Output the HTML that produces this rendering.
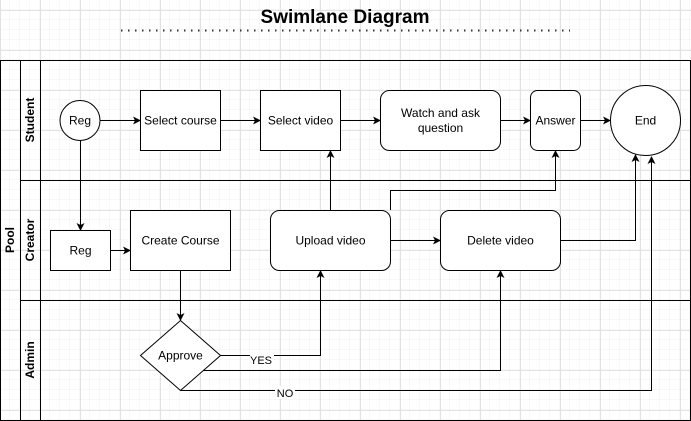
<!DOCTYPE html>
<html><head><meta charset="utf-8"><style>
html,body{margin:0;padding:0;background:#fff;}
svg{display:block;}
text{font-family:"Liberation Sans",sans-serif;}
</style></head><body>
<svg width="691" height="421" viewBox="0 0 691 421" xmlns="http://www.w3.org/2000/svg">
<defs>
<pattern id="minor" width="10" height="10" patternUnits="userSpaceOnUse">
<path d="M10 0V10M0 10H10" stroke="#f0f0f0" stroke-width="1" fill="none"/>
</pattern>
<pattern id="major" x="0" y="10" width="40" height="40" patternUnits="userSpaceOnUse">
<path d="M0.5 0V40M0 0.5H40" stroke="#e2e2e2" stroke-width="1" fill="none"/>
</pattern>
<marker id="a" markerWidth="8" markerHeight="8" refX="7" refY="4" orient="auto" markerUnits="userSpaceOnUse">
<path d="M0,0 L8,4 L0,8 L2,4 Z" fill="#000"/>
</marker>
</defs>
<rect width="691" height="421" fill="url(#minor)"/>
<rect width="691" height="421" fill="url(#major)"/>
<text x="345" y="23" text-anchor="middle" font-size="19" font-weight="bold">Swimlane Diagram</text>
<line x1="121" y1="30.5" x2="570" y2="30.5" stroke="#333" stroke-width="2" stroke-dasharray="1.5,5.5"/>
<g fill="none" stroke="#000" stroke-width="1">
<rect x="0.5" y="60.5" width="690" height="360" fill="none"/>
<line x1="20.5" y1="60" x2="20.5" y2="421"/>
<line x1="40.5" y1="60" x2="40.5" y2="421"/>
<line x1="20" y1="180.5" x2="691" y2="180.5"/>
<line x1="20" y1="300.5" x2="691" y2="300.5"/>
</g>
<g font-weight="bold" font-size="12">
<text transform="translate(14,240) rotate(-90)" text-anchor="middle">Pool</text>
<text transform="translate(34,120) rotate(-90)" text-anchor="middle">Student</text>
<text transform="translate(34,240) rotate(-90)" text-anchor="middle">Creator</text>
<text transform="translate(34,360) rotate(-90)" text-anchor="middle">Admin</text>
</g>
<g fill="#fff" stroke="#000" stroke-width="1">
<ellipse cx="80" cy="120.5" rx="20" ry="20"/>
<rect x="140.5" y="90.5" width="80" height="60"/>
<rect x="260.5" y="90.5" width="80" height="60"/>
<rect x="380.5" y="90.5" width="120" height="60" rx="9"/>
<rect x="530.5" y="90.5" width="50" height="60" rx="7"/>
<ellipse cx="645.5" cy="120.5" rx="35" ry="35"/>
<rect x="50.5" y="230.5" width="60" height="40"/>
<rect x="130.5" y="210.5" width="100" height="60"/>
<rect x="270.5" y="210.5" width="120" height="60" rx="9"/>
<rect x="440.5" y="210.5" width="120" height="60" rx="9"/>
<path d="M180.5 320.5 L220.5 355.5 L180.5 390.5 L140.5 355.5 Z"/>
</g>
<g font-size="12" text-anchor="middle">
<text x="80" y="124.5">Reg</text>
<text x="180.5" y="124.5">Select course</text>
<text x="300.5" y="124.5">Select video</text>
<text x="440.5" y="117">Watch and ask</text>
<text x="440.5" y="132">question</text>
<text x="555.5" y="124.5">Answer</text>
<text x="645.5" y="124.5">End</text>
<text x="80.5" y="254.5">Reg</text>
<text x="180.5" y="244.5">Create Course</text>
<text x="330.5" y="244.5">Upload video</text>
<text x="500.5" y="244.5">Delete video</text>
<text x="180.5" y="359.5">Approve</text>
</g>
<g fill="none" stroke="#000" stroke-width="1" marker-end="url(#a)">
<path d="M80.5 140.5V230"/>
<path d="M100 120.5H140"/>
<path d="M220.5 120.5H260"/>
<path d="M340.5 120.5H380"/>
<path d="M500.5 120.5H530"/>
<path d="M580.5 120.5H610"/>
<path d="M110.5 250.5H130"/>
<path d="M180.5 270.5V320"/>
<path d="M330.5 210.5V151"/>
<path d="M390.5 210V190.5H555.5V151"/>
<path d="M390.5 240.5H440"/>
<path d="M560.5 240.5H635.5V155"/>
<path d="M220.5 355.5H320.5V271"/>
<path d="M203 370.5H500.5V271"/>
<path d="M180.5 390.5H651.5V157"/>
</g>
<rect x="250" y="353" width="24" height="13" fill="#fff"/>
<text x="261" y="364" font-size="11" text-anchor="middle">YES</text>
<rect x="275" y="386" width="20" height="13" fill="#fff"/>
<text x="285" y="397" font-size="11" text-anchor="middle">NO</text>
</svg>
</body></html>
